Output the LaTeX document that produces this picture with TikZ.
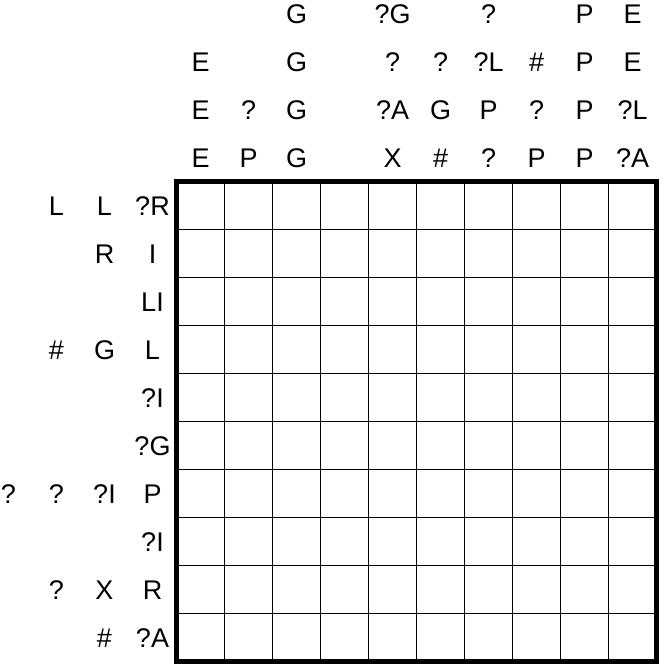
\documentclass[tikz,border=0pt]{standalone}
\usepackage{fontspec}
\setmainfont{Liberation Sans}
\usepackage{tikz}

\begin{document}
\begin{tikzpicture}
    \tikzstyle{clue} = [font=\fontsize{16}{19}\selectfont,text height=11.5pt,text depth=0pt,inner sep=0pt,node distance=1cm]
\tikzstyle{cell} = [line width=0.6pt]
\tikzstyle{frame} = [line width=3pt,line join=miter]

\useasboundingbox (-3.677,-10.135) rectangle (10.115,3.781);

\draw[cell] (0,-10) grid (10,0);
\draw[frame] (0,-10) rectangle (10,0);

% column clues
\node[clue] (t1d) at (0.5,0.5) {E};
\node[clue,right of=t1d] (t2d) {P};
\node[clue,right of=t2d] (t3d) {G};
\node[clue] (t5d) at (4.5,0.5) {X};
\node[clue,right of=t5d] (t6d) {\#};
\node[clue,right of=t6d] (t7d) {?};
\node[clue,right of=t7d] (t8d) {P};
\node[clue,right of=t8d] (t9d) {P};
\node[clue,right of=t9d] (t10d) {?A};

\node[clue,above of=t1d] (t1c) {E};
\node[clue,above of=t1c] (t1b) {E};

\node[clue,above of=t2d] (t2c) {?};

\node[clue,above of=t3d] (t3c) {G};
\node[clue,above of=t3c] (t3b) {G};
\node[clue,above of=t3b] (t3a) {G};

\node[clue,above of=t5d] (t5c) {?A};
\node[clue,above of=t5c] (t5b) {?};
\node[clue,above of=t5b] (t5a) {?G};

\node[clue,above of=t6d] (t6c) {G};
\node[clue,above of=t6c] (t6b) {?};

\node[clue,above of=t7d] (t7c) {P};
\node[clue,above of=t7c] (t7b) {?L};
\node[clue,above of=t7b] (t7a) {?};

\node[clue,above of=t8d] (t8c) {?};
\node[clue,above of=t8c] (t8b) {\#};

\node[clue,above of=t9d] (t9c) {P};
\node[clue,above of=t9c] (t9b) {P};
\node[clue,above of=t9b] (t9a) {P};

\node[clue,above of=t10d] (t10c) {?L};
\node[clue,above of=t10c] (t10b) {E};
\node[clue,above of=t10b] (t10a) {E};

% row clues
\node[clue] (l1d) at (-0.5,-0.5) {?R};
\node[clue,below of=l1d] (l2d) {I};
\node[clue,below of=l2d] (l3d) {LI};
\node[clue,below of=l3d] (l4d) {L};
\node[clue,below of=l4d] (l5d) {?I};
\node[clue,below of=l5d] (l6d) {?G};
\node[clue,below of=l6d] (l7d) {P};
\node[clue,below of=l7d] (l8d) {?I};
\node[clue,below of=l8d] (l9d) {R};
\node[clue,below of=l9d] (l10d) {?A};

\node[clue,left of=l1d] (l1c) {L};
\node[clue,left of=l1c] (l1b) {L};

\node[clue,left of=l2d] (l2c) {R};

\node[clue,left of=l4d] (l4c) {G};
\node[clue,left of=l4c] (l4b) {\#};

\node[clue,left of=l7d] (l7c) {?I};
\node[clue,left of=l7c] (l7b) {?};
\node[clue,left of=l7b] (l7a) {?};

\node[clue,left of=l9d] (l9c) {X};
\node[clue,left of=l9c] (l9b) {?};

\node[clue,left of=l10d] (l10c) {\#};

\end{tikzpicture}
\end{document}
